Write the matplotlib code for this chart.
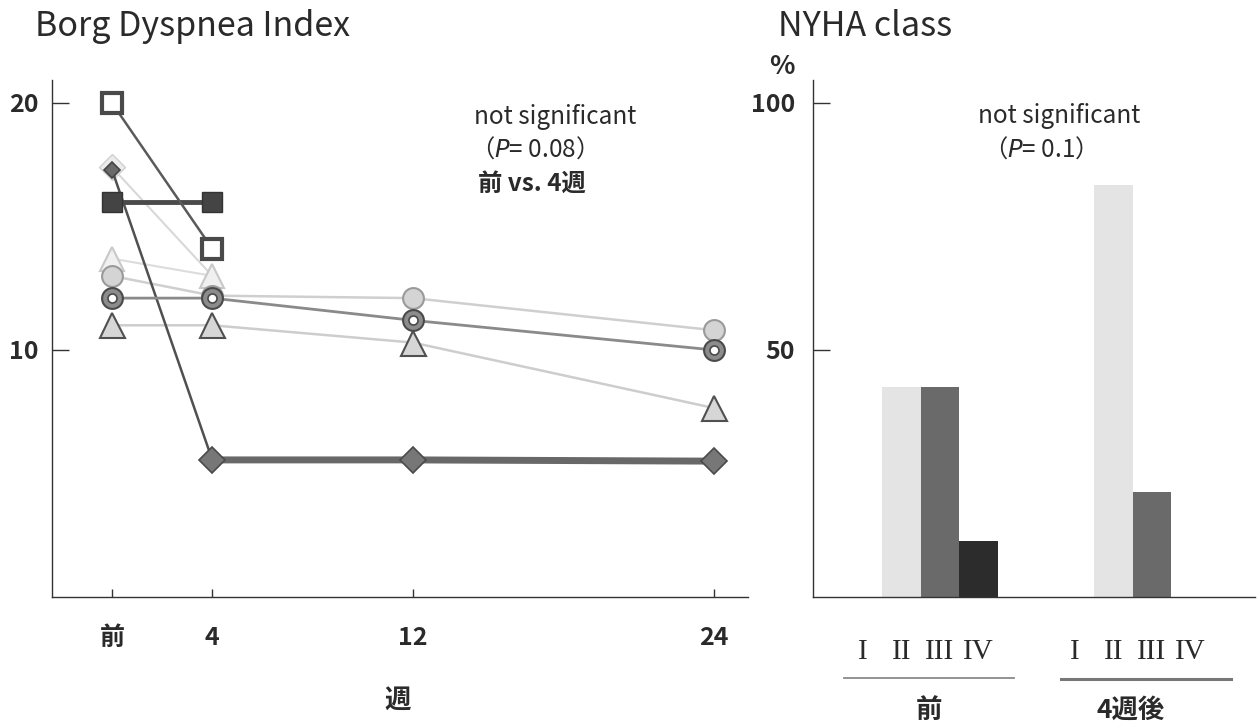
import numpy as np
import matplotlib
matplotlib.use("Agg")
import matplotlib.pyplot as plt
import matplotlib.transforms as mtransforms
from matplotlib.lines import Line2D

plt.rcParams['font.family'] = ['Noto Sans CJK JP', 'DejaVu Sans']
plt.rcParams['mathtext.fontset'] = 'dejavusans'

# ---------------- data: Borg Dyspnea Index ----------------
weeks = [0, 4, 12, 24]
week_labels = ["前", "4", "12", "24"]
nan = np.nan
open_square = [20.0, 14.1, nan, nan]
filled_square = [16.0, 16.0, nan, nan]
dark_diamond = [17.3, 5.55, 5.55, 5.5]
light_diamond = [17.4, 13.0, nan, nan]
light_triangle = [13.7, 13.0, nan, nan]
light_circle = [13.0, 12.2, 12.1, 10.8]
ring_circle = [12.1, 12.1, 11.2, 10.0]
gray_triangle = [11.0, 11.0, 10.3, 7.65]

# ---------------- data: NYHA class ----------------
nyha_classes = ["I", "II", "III", "IV"]
nyha_before = [0.0, 42.5, 42.5, 11.3]
nyha_after4 = [0.0, 83.4, 21.3, 0.0]
nyha_groups = ["前", "4週後"]
bar_colors = ["#e0e0e0", "#e4e4e4", "#6a6a6a", "#2c2c2c"]

fig = plt.figure(figsize=(12.57, 7.28), dpi=100)
W, H = 1257, 728
TXT = "#2a2a2a"

def fpos(x0, x1, ytop, ybot):
    return [x0 / W, 1 - ybot / H, (x1 - x0) / W, (ybot - ytop) / H]

# ---------------- left chart ----------------
ax = fig.add_axes(fpos(52, 748, 80, 597))
ax.set_xlim(-2.39, 25.36)
ax.set_ylim(0, 20.93)
for s in ["top", "right"]:
    ax.spines[s].set_visible(False)
for s in ["left", "bottom"]:
    ax.spines[s].set_color("#333333")
    ax.spines[s].set_linewidth(1.0)

ax.plot(weeks, light_diamond, color="#d8d8d8", lw=1.5, marker="D", ms=13,
        mfc="#ececec", mec="#cfcfcf", markevery=[0], zorder=2)
ax.plot(weeks, light_triangle, color="#dcdcdc", lw=1.5, marker="^", ms=17,
        mfc="#f0f0f0", mec="#c8c8c8", mew=1.5, zorder=2)
ax.plot(weeks, light_circle, color="#cfcfcf", lw=1.8, marker="o", ms=15,
        mfc="#d4d4d4", mec="#9a9a9a", mew=1.5, zorder=3)
ax.plot(weeks, gray_triangle, color="#cdcdcd", lw=1.8, marker="^", ms=18,
        mfc="#d6d6d6", mec="#505050", mew=1.5, zorder=3)
ax.plot(weeks, dark_diamond, color="#505050", lw=1.8, zorder=4)
ax.plot(weeks[1:], dark_diamond[1:], color="#686868", lw=5, zorder=4)
ax.plot(weeks, dark_diamond, ls="none", marker="D", ms=8.5,
        mfc="#6a6a6a", mec="#444444", mew=1.2, zorder=6)
ax.plot(weeks[1:], dark_diamond[1:], ls="none", marker="D", ms=13,
        mfc="#777777", mec="#4a4a4a", mew=1.2, zorder=6)
ax.plot(weeks, ring_circle, color="#8a8a8a", lw=2.0, marker="o", ms=15,
        mfc="#8c8c8c", mec="#4a4a4a", mew=1.5, zorder=5)
ax.plot(weeks, ring_circle, ls="none", marker="o", ms=6.5,
        mfc="white", mec="#4a4a4a", mew=1.2, zorder=5)
ax.plot(weeks, filled_square, color="#4a4a4a", lw=3.5, marker="s", ms=15,
        mfc="#444444", mec="#333333", zorder=7)
ax.plot(weeks, open_square, color="#5a5a5a", lw=1.8, marker="s", ms=14,
        mfc="white", mec="#4a4a4a", mew=3, zorder=8)

ax.set_xticks(weeks)
ax.set_xticklabels(week_labels)
ax.set_yticks([10, 20])
ax.tick_params(axis="x", direction="in", length=6, width=1, color="#333333",
               pad=21, labelsize=18, labelcolor=TXT)
ax.tick_params(axis="y", direction="in", length=12, width=1, color="#333333",
               pad=10, labelsize=18, labelcolor=TXT)
for lab in ax.get_xticklabels() + ax.get_yticklabels():
    lab.set_fontweight("bold")

ax.text(0.496, -0.199, "週", transform=ax.transAxes, ha="center", va="center",
        fontsize=19, color=TXT, fontweight="bold")
ax.text(0.607, 0.928, "not significant", transform=ax.transAxes,
        ha="left", va="center", fontsize=17.5, color=TXT)
ax.text(0.600, 0.865, "（$P$= 0.08）", transform=ax.transAxes,
        ha="left", va="center", fontsize=17.5, color=TXT)
ax.text(0.612, 0.800, "前 vs. 4週", transform=ax.transAxes,
        ha="left", va="center", fontsize=17.5, color=TXT,
        fontweight="bold")

fig.text(35 / W, 1 - 27 / H, "Borg Dyspnea Index", ha="left", va="center",
         fontsize=24.5, color=TXT)

# ---------------- right chart ----------------
bx = fig.add_axes(fpos(813, 1255, 80, 597))
slots_before = np.arange(4)
slots_after = np.arange(4) + 5.5
bx.set_xlim(-1.3, 10.18)
bx.set_ylim(0, 104.6)
for s in ["top", "right"]:
    bx.spines[s].set_visible(False)
for s in ["left", "bottom"]:
    bx.spines[s].set_color("#333333")
    bx.spines[s].set_linewidth(1.0)

bx.bar(slots_before, nyha_before, width=1.0, color=bar_colors, zorder=2)
bx.bar(slots_after, nyha_after4, width=1.0, color=bar_colors, zorder=2)

bx.set_xticks(list(slots_before) + list(slots_after))
bx.set_xticklabels(nyha_classes * 2, family="Liberation Serif")
bx.tick_params(axis="x", length=0, pad=30, labelsize=21, labelcolor=TXT)
bx.set_yticks([50, 100])
bx.tick_params(axis="y", direction="in", length=12, width=1, color="#333333",
               pad=13, labelsize=18, labelcolor=TXT)
for lab in bx.get_yticklabels():
    lab.set_fontweight("bold")

trans = mtransforms.blended_transform_factory(bx.transData, bx.transAxes)
bx.add_line(Line2D([-0.49, 3.92], [-0.157, -0.157], transform=trans,
                   color="#8a8a8a", lw=1.3, clip_on=False))
bx.add_line(Line2D([5.14, 9.56], [-0.158, -0.158], transform=trans,
                   color="#777777", lw=2.2, clip_on=False))
bx.text(1.71, -0.219, nyha_groups[0], transform=trans, ha="center",
        va="center", fontsize=19, color=TXT, fontweight="bold")
bx.text(6.95, -0.219, nyha_groups[1], transform=trans, ha="center",
        va="center", fontsize=19, color=TXT, fontweight="bold")

bx.text(0.373, 0.930, "not significant", transform=bx.transAxes,
        ha="left", va="center", fontsize=17.5, color=TXT)
bx.text(0.385, 0.865, "（$P$= 0.1）", transform=bx.transAxes,
        ha="left", va="center", fontsize=17.5, color=TXT)

fig.text(778 / W, 1 - 27 / H, "NYHA class", ha="left", va="center",
         fontsize=24.5, color=TXT)
fig.text(782 / W, 1 - 67 / H, "%", ha="center", va="center",
         fontsize=19, color=TXT, fontweight="bold")

fig.savefig("out.png", dpi=100)
